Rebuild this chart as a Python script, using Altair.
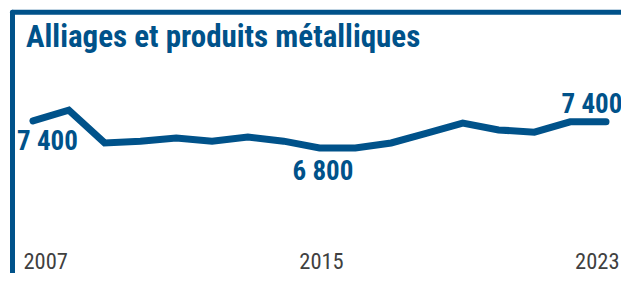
import altair as alt
import pandas as pd

years = [2007, 2008, 2009, 2010, 2011, 2012, 2013, 2014, 2015,
         2016, 2017, 2018, 2019, 2020, 2021, 2022, 2023]
values = [7400, 7640, 6910, 6950, 7020, 6950, 7040, 6950, 6800,
          6800, 6910, 7130, 7350, 7200, 7150, 7380, 7380]
tick_years = [2007, 2015, 2023]
label_years = [2007, 2015, 2023]
label_texts = ["7 400", "6 800", "7 400"]
title_text = "Alliages et produits métalliques"

BLUE = "#00528a"
GRAY = "#404040"
FONT = "'Roboto Condensed', Roboto, sans-serif"

df = pd.DataFrame({"year": years, "value": values})
lab = pd.DataFrame({"year": label_years, "text": label_texts})
lab = lab.merge(df, on="year")

x_enc = alt.X(
    "year:Q",
    scale=alt.Scale(domain=[2007, 2023], nice=False, zero=False),
    axis=alt.Axis(
        values=tick_years, format="d", title=None, grid=False, domain=False, ticks=False,
        labelFont=FONT, labelFontSize=22.5, labelColor=GRAY,
        labelBaseline="alphabetic", labelPadding=16.6,
        labelAlign={"condition": [
            {"test": "datum.value == 2007", "value": "left"},
            {"test": "datum.value == 2023", "value": "right"}], "value": "center"},
        labelOffset={"condition": [
            {"test": "datum.value == 2007", "value": -10},
            {"test": "datum.value == 2023", "value": 13}], "value": 1.5},
    ),
)
y_enc = alt.Y("value:Q", scale=alt.Scale(domain=[4500, 8500], zero=False, nice=False), axis=None)

one = pd.DataFrame({"a": [0]})
top_rule = alt.Chart(one).mark_rule(
    color=BLUE, strokeWidth=5, strokeCap="round"
).encode(x=alt.value(-20.5), x2=alt.value(800), y=alt.value(-59.15))
left_rule = alt.Chart(one).mark_rule(
    color=BLUE, strokeWidth=5, strokeCap="round"
).encode(x=alt.value(-20.5), y=alt.value(-59.15), y2=alt.value(500))

title = alt.Chart(pd.DataFrame({"t": [title_text]})).mark_text(
    font=FONT, fontSize=31, fontWeight="bold", color=BLUE,
    align="left", baseline="alphabetic"
).encode(x=alt.value(-7), y=alt.value(-24.4), text="t:N")

line = alt.Chart(df).mark_line(
    color=BLUE, strokeWidth=7, strokeCap="round"
).encode(x=x_enc, y=y_enc)

def label_layer(year, dx, dy):
    return alt.Chart(lab).transform_filter(alt.datum.year == year).mark_text(
        font=FONT, fontSize=27, fontWeight="bold", color=BLUE,
        align="center", baseline="alphabetic", dx=dx, dy=dy
    ).encode(x="year:Q", y="value:Q", text="text:N")

labels = [label_layer(2007, 14.5, 29), label_layer(2015, 3.5, 32), label_layer(2023, -14, -9)]

chart = alt.layer(top_rule, left_rule, title, line, *labels).properties(
    width=573, height=180,
    padding={"left": 25, "top": 63.4, "right": 15, "bottom": 21.6},
    autosize=alt.AutoSizeParams(type="none"),
).configure_view(stroke=None)

chart.save("out.html", embed_options={"renderer": "svg", "actions": False})
